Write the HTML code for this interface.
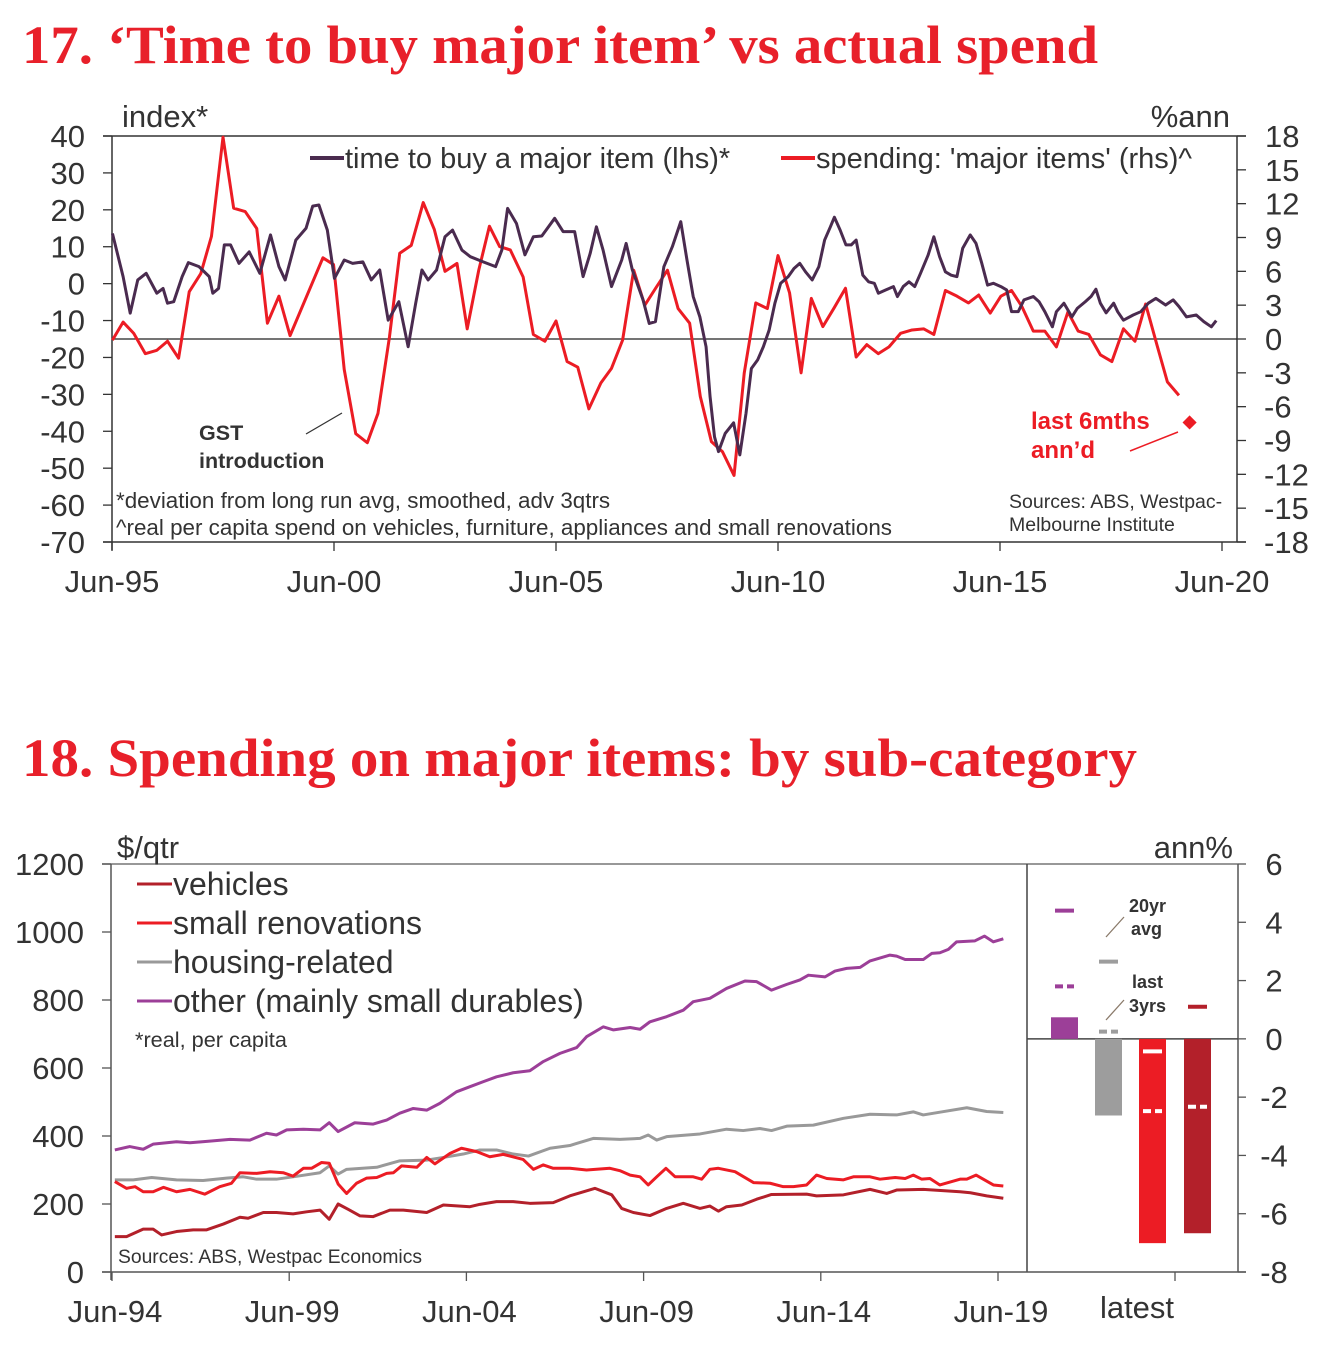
<!DOCTYPE html>
<html><head><meta charset="utf-8"><style>
html,body{margin:0;padding:0;background:#fff;}
svg{display:block;font-family:"Liberation Sans",Arial,sans-serif;}
.t{fill:#333;}
</style></head><body>
<svg id="root" width="1327" height="1354" viewBox="0 0 1327 1354">
<text x="22" y="63" font-family="Liberation Serif,serif" font-weight="bold" font-size="54" fill="#e8202a" textLength="1076" lengthAdjust="spacingAndGlyphs">17. ‘Time to buy major item’ vs actual spend</text>
<text x="22" y="776" font-family="Liberation Serif,serif" font-weight="bold" font-size="54" fill="#e8202a" textLength="1115" lengthAdjust="spacingAndGlyphs">18. Spending on major items: by sub-category</text>
<g id="c1"></g>
<g id="c2"></g>
</svg>
<script>
// ---------- Chart 17 data ----------
const buyYears=[1995.51,1995.75,1995.91,1996.08,1996.27,1996.51,1996.65,1996.75,1996.89,1997.08,1997.22,1997.46,1997.69,1997.77,1997.90,1998.03,1998.17,1998.36,1998.59,1998.83,1999.07,1999.26,1999.40,1999.64,1999.87,2000.02,2000.16,2000.35,2000.51,2000.73,2000.92,2001.15,2001.34,2001.53,2001.72,2001.96,2002.17,2002.34,2002.48,2002.62,2002.81,2003.0,2003.17,2003.38,2003.57,2003.86,2004.14,2004.28,2004.41,2004.61,2004.80,2004.99,2005.18,2005.47,2005.66,2005.92,2006.11,2006.27,2006.41,2006.56,2006.75,2006.98,2007.08,2007.22,2007.46,2007.60,2007.74,2007.93,2008.12,2008.31,2008.45,2008.59,2008.74,2008.88,2008.97,2009.07,2009.16,2009.31,2009.50,2009.64,2009.78,2009.90,2010.04,2010.17,2010.30,2010.43,2010.56,2010.73,2010.86,2010.99,2011.12,2011.27,2011.42,2011.55,2011.68,2011.77,2011.90,2012.03,2012.15,2012.26,2012.41,2012.54,2012.67,2012.76,2012.93,2013.10,2013.19,2013.32,2013.45,2013.58,2013.71,2013.88,2014.01,2014.14,2014.27,2014.40,2014.53,2014.66,2014.83,2014.96,2015.09,2015.22,2015.35,2015.52,2015.65,2015.76,2015.91,2016.04,2016.25,2016.38,2016.51,2016.68,2016.77,2016.94,2017.12,2017.24,2017.42,2017.55,2017.66,2017.76,2017.89,2018.06,2018.15,2018.28,2018.50,2018.67,2018.84,2019.01,2019.23,2019.40,2019.53,2019.70,2019.92,2020.09,2020.26,2020.37];
const buyVals=[13.6,1.9,-8.0,1.0,2.8,-2.6,-1.3,-5.3,-4.9,1.9,5.7,4.6,1.9,-2.6,-1.3,10.5,10.5,5.5,8.6,2.8,13.2,4.6,1.0,11.8,15.0,21.0,21.3,14.5,1.4,6.4,5.5,5.9,1.0,3.7,-9.9,-4.9,-17.1,-5.3,3.7,1.0,3.7,12.7,14.5,9.1,7.3,5.9,4.6,9.1,20.4,16.3,7.8,12.7,12.9,17.7,14.1,14.1,1.9,8.2,15.4,9.1,-0.8,6.4,10.9,3.7,-4.4,-10.8,-10.3,4.6,10.0,16.8,6.4,-3.5,-9.0,-17.1,-30.6,-41.5,-45.5,-40.6,-37.7,-46.4,-35.1,-23.0,-20.7,-17.1,-12.6,-5.3,0.1,1.9,4.1,5.5,3.2,1.0,4.6,11.8,15.4,18.0,14.5,10.5,10.5,11.8,2.3,0.5,0.1,-2.6,-1.7,-0.8,-3.5,-0.8,0.5,-0.8,2.8,7.7,12.7,7.3,3.2,2.3,1.9,9.6,13.2,10.9,5.5,-0.4,0.1,-0.8,-1.7,-7.6,-7.6,-4.4,-3.5,-4.9,-7.6,-11.7,-7.6,-5.3,-9.0,-6.7,-4.9,-3.5,-1.5,-5.3,-7.9,-5.3,-7.6,-9.9,-8.5,-7.6,-5.3,-4.0,-5.8,-4.4,-6.2,-9.0,-8.5,-10.3,-11.7,-10.0];
const spendYears=[1995.51,1995.75,1995.99,1996.25,1996.51,1996.75,1997.00,1997.24,1997.50,1997.74,1998.00,1998.24,1998.50,1998.76,1999.00,1999.26,1999.51,2000.25,2000.49,2000.73,2000.99,2001.25,2001.49,2001.75,2001.98,2002.24,2002.51,2002.76,2003.00,2003.27,2003.50,2003.76,2004.00,2004.23,2004.47,2004.76,2004.99,2005.25,2005.50,2005.75,2005.99,2006.24,2006.51,2006.75,2007.00,2007.25,2007.50,2007.76,2008.01,2008.25,2008.51,2008.75,2009.00,2009.25,2009.51,2009.74,2010.00,2010.26,2010.50,2010.76,2011.02,2011.25,2011.51,2011.77,2012.02,2012.26,2012.50,2012.76,2013.00,2013.26,2013.52,2013.78,2014.01,2014.27,2014.53,2014.79,2015.02,2015.28,2015.52,2015.76,2015.99,2016.25,2016.51,2016.77,2017.03,2017.26,2017.50,2017.76,2018.02,2018.28,2018.54,2018.78,2019.04,2019.27,2019.53];
const spendVals=[-0.1,1.5,0.5,-1.3,-1.0,-0.2,-1.7,4.2,5.8,9.1,17.9,11.6,11.3,9.8,1.4,3.8,0.3,7.2,6.6,-2.7,-8.4,-9.2,-6.6,0.2,7.6,8.3,12.1,9.7,6.0,6.7,0.9,6.1,10.0,8.2,7.9,5.5,0.4,-0.2,1.6,-2.0,-2.5,-6.2,-3.9,-2.6,-0.1,6.1,3.0,4.6,6.1,2.7,1.4,-5.1,-9.1,-10.0,-12.1,-3.0,3.2,2.7,7.4,4.1,-3.0,3.6,1.1,2.8,4.5,-1.6,-0.5,-1.3,-0.7,0.5,0.8,0.9,0.4,4.3,3.8,3.2,3.9,2.3,3.8,4.3,2.9,0.7,0.7,-0.7,2.4,0.7,0.4,-1.4,-2.0,0.9,-0.2,3.1,-0.6,-3.8,-5.0];
const lastSixYear=[2019.77];
const lastSixVal=[-7.4];
const lhsTicks=[40,30,20,10,0,-10,-20,-30,-40,-50,-60,-70];
const rhsTicks=[18,15,12,9,6,3,0,-3,-6,-9,-12,-15,-18];
const c1XTicks=[1995.5,2000.5,2005.5,2010.5,2015.5,2020.5];
const c1XLabels=["Jun-95","Jun-00","Jun-05","Jun-10","Jun-15","Jun-20"];

// ---------- Chart 18 data ----------
const vehYears=[1994.58,1994.91,1995.38,1995.66,1995.90,1996.32,1996.79,1997.17,1997.64,1998.11,1998.34,1998.77,1999.14,1999.61,1999.99,2000.37,2000.63,2000.88,2001.17,2001.50,2001.87,2002.34,2002.72,2003.38,2003.85,2004.60,2004.88,2005.35,2005.82,2006.29,2006.95,2007.42,2007.80,2008.13,2008.60,2008.88,2009.21,2009.68,2010.15,2010.62,2011.09,2011.37,2011.61,2011.84,2012.27,2012.69,2013.11,2014.10,2014.38,2015.14,2015.89,2016.36,2016.64,2017.39,2018.43,2018.72,2019.18,2019.65];
const vehVals=[104,104,126,126,109,119,124,124,141,161,158,175,175,171,177,182,155,200,184,165,163,182,182,175,197,192,199,207,207,202,204,224,236,246,227,187,175,166,187,202,187,194,179,192,197,214,228,229,224,227,243,231,241,243,236,233,224,217];
const renYears=[1994.58,1994.91,1995.15,1995.38,1995.66,1995.95,1996.32,1996.70,1997.12,1997.54,1997.87,1998.11,1998.58,1998.96,1999.33,1999.61,1999.90,2000.13,2000.41,2000.63,2000.88,2001.12,2001.40,2001.68,2001.97,2002.25,2002.44,2002.67,2003.10,2003.38,2003.61,2004.04,2004.36,2004.79,2005.16,2005.54,2006.10,2006.39,2006.67,2006.95,2007.42,2007.89,2008.55,2008.83,2009.12,2009.40,2009.63,2009.87,2010.13,2010.39,2010.90,2011.14,2011.37,2011.61,2012.08,2012.60,2013.07,2013.44,2013.73,2014.10,2014.38,2014.67,2015.14,2015.42,2015.89,2016.17,2016.60,2016.88,2017.11,2017.35,2017.58,2017.86,2018.43,2018.62,2018.88,2019.37,2019.65];
const renVals=[266,246,251,236,236,249,236,243,229,251,261,292,290,295,292,282,305,305,322,320,259,231,261,276,278,290,292,312,308,337,318,349,364,354,339,346,331,302,315,305,305,300,305,298,285,280,256,280,305,280,280,273,302,305,295,263,261,251,251,256,285,275,271,280,280,273,278,275,285,273,275,256,273,273,285,256,253];
const houYears=[1994.58,1995.10,1995.62,1996.32,1997.07,1997.73,1998.20,1998.58,1999.14,1999.61,2000.37,2000.63,2000.88,2001.12,2001.97,2002.62,2003.38,2003.85,2004.41,2004.88,2005.35,2005.82,2006.25,2006.86,2007.42,2007.61,2008.08,2008.83,2009.40,2009.63,2009.87,2010.15,2011.09,2011.84,2012.31,2012.78,2013.11,2013.54,2014.29,2015.14,2015.89,2016.64,2017.11,2017.39,2017.86,2018.62,2019.18,2019.65];
const houVals=[271,271,278,271,269,276,280,273,273,280,292,312,288,302,308,327,329,337,347,359,359,347,341,364,372,378,393,390,393,403,388,398,406,420,416,422,416,429,432,452,464,462,471,462,470,483,472,469];
const othYears=[1994.58,1995.0,1995.38,1995.66,1996.32,1996.70,1997.26,1997.83,1998.39,1998.86,1999.14,1999.43,1999.90,2000.37,2000.63,2000.88,2001.35,2001.87,2002.25,2002.62,2003.0,2003.38,2003.75,2004.22,2004.60,2004.98,2005.35,2005.82,2006.29,2006.67,2007.14,2007.61,2007.89,2008.36,2008.65,2009.12,2009.40,2009.68,2010.15,2010.62,2010.90,2011.37,2011.84,2012.36,2012.69,2013.11,2013.54,2013.91,2014.15,2014.62,2014.90,2015.23,2015.61,2015.89,2016.45,2016.64,2016.88,2017.39,2017.63,2017.86,2018.10,2018.33,2018.85,2019.12,2019.37,2019.65];
const othVals=[359,369,361,376,383,380,385,390,388,408,403,418,420,418,439,413,439,435,447,467,481,476,496,530,545,560,574,586,592,619,643,660,692,721,712,719,714,736,751,770,795,805,834,856,854,829,846,859,873,868,885,893,896,915,932,929,919,919,937,939,949,971,974,988,971,980];
const barCats=["other","housing","renovations","vehicles"];
const barLatest=[0.74,-2.63,-7.01,-6.67];
const barAvg20=[4.4,2.65,-0.43,1.1];
const barLast3=[1.8,0.25,-2.48,-2.33];
const c2LTicks=[0,200,400,600,800,1000,1200];
const c2RTicks=[6,4,2,0,-2,-4,-6,-8];
const c2XTicks=[1994.5,1999.5,2004.5,2009.5,2014.5,2019.5];
const c2XLabels=["Jun-94","Jun-99","Jun-04","Jun-09","Jun-14","Jun-19"];

const NS="http://www.w3.org/2000/svg";
function mk(parent,tag,attrs,txt){const e=document.createElementNS(NS,tag);for(const k in attrs)e.setAttribute(k,attrs[k]);if(txt!==undefined)e.textContent=txt;parent.appendChild(e);return e;}

// ===== Chart 17 =====
const c1=document.getElementById('c1');
const L1=112,R1=1237,T1=136,B1=542;
const x1=y=>112+(y-1995.5)*44.4;
const yl=v=>T1+(40-v)*(B1-T1)/110;
const yr=v=>T1+(18-v)*(B1-T1)/36;
let e;
e=mk(c1,'line',{x1:103,y1:T1,x2:1246,y2:T1,stroke:'#333','stroke-width':1.5});


e=mk(c1,'line',{x1:L1,y1:T1,x2:L1,y2:B1+8,stroke:'#333','stroke-width':1.5});


e=mk(c1,'line',{x1:R1,y1:T1,x2:R1,y2:B1,stroke:'#333','stroke-width':1.5});


e=mk(c1,'line',{x1:103,y1:B1,x2:1246,y2:B1,stroke:'#333','stroke-width':1.5});


e=mk(c1,'line',{x1:L1,y1:yr(0),x2:R1,y2:yr(0),stroke:'#222','stroke-width':1.2});


lhsTicks.forEach(v=>{
  e=mk(c1,'line',{x1:103,y1:yl(v),x2:L1,y2:yl(v),stroke:'#333','stroke-width':1.3});
  
  
  e=mk(c1,'text',{x:85,y:yl(v)+11,'font-size':31,'text-anchor':'end',class:'t'},String(v));
  
  
});
rhsTicks.forEach(v=>{
  e=mk(c1,'line',{x1:R1,y1:yr(v),x2:1246,y2:yr(v),stroke:'#333','stroke-width':1.3});
  
  
  e=mk(c1,'text',{x:v<0?1264:1265,y:yr(v)+11,'font-size':31,class:'t'},String(v));
  
  
});
c1XTicks.forEach((t,i)=>{
  e=mk(c1,'line',{x1:x1(t),y1:B1,x2:x1(t),y2:B1+9,stroke:'#333','stroke-width':1.3});
  
  
  e=mk(c1,'text',{x:x1(t),y:592,'font-size':31,'text-anchor':'middle',class:'t'},c1XLabels[i]);
  
  
});
e=mk(c1,'text',{x:122,y:127,'font-size':31,class:'t'},'index*');


e=mk(c1,'text',{x:1230,y:127,'font-size':31,'text-anchor':'end',class:'t'},'%ann');


e=mk(c1,'polyline',{points:spendYears.map((y,i)=>x1(y)+','+yr(spendVals[i])).join(' '),fill:'none',stroke:'#ec1c24','stroke-width':3,'stroke-linejoin':'round'});


e=mk(c1,'polyline',{points:buyYears.map((y,i)=>x1(y)+','+yl(buyVals[i])).join(' '),fill:'none',stroke:'#4a2b4f','stroke-width':3,'stroke-linejoin':'round'});


lastSixYear.forEach((y,i)=>{
  const cx=x1(y),cy=yr(lastSixVal[i]);
  e=mk(c1,'rect',{x:cx-5,y:cy-5,width:10,height:10,fill:'#ec1c24',transform:`rotate(45 ${cx} ${cy})`});
  
  
});
// legend
e=mk(c1,'line',{x1:310,y1:158,x2:344,y2:158,stroke:'#4a2b4f','stroke-width':4});


e=mk(c1,'text',{x:345,y:168,'font-size':29,class:'t'},'time to buy a major item (lhs)*');


e=mk(c1,'line',{x1:781,y1:158,x2:815,y2:158,stroke:'#ec1c24','stroke-width':4});


e=mk(c1,'text',{x:816,y:168,'font-size':29,class:'t'},"spending: 'major items' (rhs)^");


// annotations
e=mk(c1,'text',{x:199,y:440,'font-size':21.5,'font-weight':'bold',class:'t'},'GST');


e=mk(c1,'text',{x:199,y:468,'font-size':21.5,'font-weight':'bold',class:'t'},'introduction');


e=mk(c1,'line',{x1:306,y1:434,x2:342,y2:413,stroke:'#333','stroke-width':1.3});


e=mk(c1,'text',{x:1031,y:429,'font-size':24,'font-weight':'bold',fill:'#ec1c24'},'last 6mths');


e=mk(c1,'text',{x:1031,y:458,'font-size':24,'font-weight':'bold',fill:'#ec1c24'},'ann’d');


e=mk(c1,'line',{x1:1130,y1:451,x2:1178,y2:432,stroke:'#ec1c24','stroke-width':1.5});


e=mk(c1,'text',{x:116,y:508,'font-size':22.4,class:'t'},'*deviation from long run avg, smoothed, adv 3qtrs');


e=mk(c1,'text',{x:116,y:535,'font-size':22.4,class:'t'},'^real per capita spend on vehicles, furniture, appliances and small renovations');


e=mk(c1,'text',{x:1009,y:508,'font-size':19.5,class:'t'},'Sources: ABS, Westpac-');


e=mk(c1,'text',{x:1009,y:531,'font-size':19.5,class:'t'},'Melbourne Institute');



// ===== Chart 18 =====
const c2=document.getElementById('c2');
const L2=111,D2=1027,R2=1238,T2=864,B2=1272;
const x2=y=>112+(y-1994.5)*35.44;
const y2=v=>B2-v*(B2-T2)/1200;
const y2r=v=>T2+(6-v)*(B2-T2)/14;
e=mk(c2,'line',{x1:102,y1:T2,x2:R2,y2:T2,stroke:'#777','stroke-width':1.5});


e=mk(c2,'line',{x1:L2,y1:T2,x2:L2,y2:B2+8,stroke:'#555','stroke-width':1.5});


e=mk(c2,'line',{x1:D2,y1:T2,x2:D2,y2:B2,stroke:'#444','stroke-width':1.5});


e=mk(c2,'line',{x1:R2,y1:T2,x2:R2,y2:B2,stroke:'#555','stroke-width':1.5});


e=mk(c2,'line',{x1:102,y1:B2,x2:1246,y2:B2,stroke:'#555','stroke-width':1.5});


e=mk(c2,'line',{x1:D2,y1:y2r(0),x2:R2,y2:y2r(0),stroke:'#444','stroke-width':1.5});


c2LTicks.forEach(v=>{
  e=mk(c2,'line',{x1:102,y1:y2(v),x2:L2,y2:y2(v),stroke:'#555','stroke-width':1.3});
  
  
  e=mk(c2,'text',{x:84,y:y2(v)+11,'font-size':31,'text-anchor':'end',class:'t'},String(v));
  
  
});
c2RTicks.forEach(v=>{
  e=mk(c2,'line',{x1:R2,y1:y2r(v),x2:1246,y2:y2r(v),stroke:'#555','stroke-width':1.3});
  
  
  e=mk(c2,'text',{x:1274,y:y2r(v)+11,'font-size':31,'text-anchor':'middle',class:'t'},String(v));
  
  
});
c2XTicks.forEach((t,i)=>{
  e=mk(c2,'line',{x1:x2(t),y1:B2,x2:x2(t),y2:B2+9,stroke:'#555','stroke-width':1.3});
  
  
  e=mk(c2,'text',{x:x2(t)+3,y:1322,'font-size':31,'text-anchor':'middle',class:'t'},c2XLabels[i]);
  
  
});
e=mk(c2,'line',{x1:1175,y1:B2,x2:1175,y2:B2+9,stroke:'#555','stroke-width':1.3});


e=mk(c2,'text',{x:1137,y:1318,'font-size':31,'text-anchor':'middle',class:'t'},'latest');


e=mk(c2,'text',{x:117,y:858,'font-size':31,class:'t'},'$/qtr');


e=mk(c2,'text',{x:1233,y:858,'font-size':31,'text-anchor':'end',class:'t'},'ann%');


const series=[[othYears,othVals,'#9c3f98','other-line'],[houYears,houVals,'#999999','housing-related-line'],[renYears,renVals,'#ec1c24','small-renovations-line'],[vehYears,vehVals,'#b3202a','vehicles-line']];
series.forEach(s=>{
  e=mk(c2,'polyline',{points:s[0].map((y,i)=>x2(y)+','+y2(s[1][i])).join(' '),fill:'none',stroke:s[2],'stroke-width':3,'stroke-linejoin':'round'});
  
  
});
// legend
const leg=[['vehicles','#b3202a',884],['small renovations','#ec1c24',923],['housing-related','#999999',962],['other (mainly small durables)','#9c3f98',1001]];
leg.forEach(l=>{
  e=mk(c2,'line',{x1:137,y1:l[2],x2:172,y2:l[2],stroke:l[1],'stroke-width':3});
  
  
  e=mk(c2,'text',{x:173,y:l[2]+11,'font-size':32,class:'t'},l[0]);
  
  
});
e=mk(c2,'text',{x:135,y:1047,'font-size':21.7,class:'t'},'*real, per capita');


e=mk(c2,'text',{x:118,y:1263,'font-size':19.3,class:'t'},'Sources: ABS, Westpac Economics');


// bars
const barX=[1051,1095,1139,1184];
const barCol=['#9c3f98','#9d9d9d','#ec1c24','#b3202a'];
const markCol=['#9c3f98','#9d9d9d','#ffffff','#ffffff'];
const markColAvg=['#9c3f98','#9d9d9d','#ffffff','#b3202a'];
const barW=27;
barCats.forEach((c,i)=>{
  const v=barLatest[i],y0=y2r(0),yv=y2r(v);
  e=mk(c2,'rect',{x:barX[i],y:Math.min(y0,yv),width:barW,height:Math.abs(yv-y0),fill:barCol[i]});
  
  
  e=mk(c2,'line',{x1:barX[i]+4,y1:y2r(barAvg20[i]),x2:barX[i]+barW-4,y2:y2r(barAvg20[i]),stroke:markColAvg[i],'stroke-width':4});
  
  
  e=mk(c2,'line',{x1:barX[i]+4,y1:y2r(barLast3[i]),x2:barX[i]+barW-4,y2:y2r(barLast3[i]),stroke:markCol[i],'stroke-width':4,'stroke-dasharray':'8,4'});
  
  
});
e=mk(c2,'text',{x:1129,y:912,'font-size':18,'font-weight':'bold',class:'t'},'20yr');


e=mk(c2,'text',{x:1131,y:935,'font-size':18,'font-weight':'bold',class:'t'},'avg');


e=mk(c2,'line',{x1:1106,y1:937,x2:1124,y2:917,stroke:'#8a7a6a','stroke-width':1.3});


e=mk(c2,'text',{x:1132,y:988,'font-size':18,'font-weight':'bold',class:'t'},'last');


e=mk(c2,'text',{x:1129,y:1012,'font-size':18,'font-weight':'bold',class:'t'},'3yrs');


e=mk(c2,'line',{x1:1106,y1:1020,x2:1124,y2:1000,stroke:'#8a7a6a','stroke-width':1.3});


</script>
</body></html>
